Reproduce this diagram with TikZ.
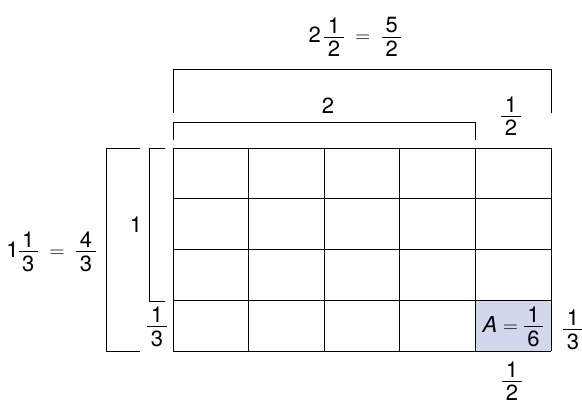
\documentclass[tikz,border=0pt]{standalone}
\usepackage{fontspec}
\usepackage{amsmath}
\setmainfont{TeX Gyre Heros}
\newcommand\myfr[2]{\vcenter{\offinterlineskip\halign{\hfil##\hfil\cr
  \,#1\,\cr\noalign{\kern3.5pt\hrule height 0.9pt\kern3.5pt}\,#2\,\cr}}}
\definecolor{cellblue}{HTML}{D2D7EE}
\tikzset{
  gridline/.style={line width=1pt, black},
  bracket/.style={line width=0.9pt, black},
  lab/.style={font=\fontsize{22}{26}\selectfont, inner sep=0pt}
}
\begin{document}
\begin{tikzpicture}[x=1pt,y=-1pt]
\useasboundingbox (0,0) rectangle (582,410);
% shaded cell
\fill[cellblue] (475.4,300.25) rectangle (551,351);
% grid
\foreach \xx in {173,248.6,324.2,399.8,475.4,551}
  \draw[gridline] (\xx,148) -- (\xx,351);
\foreach \yy in {148,198.75,249.5,300.25,351}
  \draw[gridline] (173,\yy) -- (551,\yy);
% brackets
\draw[bracket] (173,113) -- (173,69) -- (551,69) -- (551,113);
\draw[bracket] (173,140) -- (173,122) -- (475.4,122) -- (475.4,140);
\draw[bracket] (140,148) -- (106,148) -- (106,351) -- (140,351);
\draw[bracket] (165,148) -- (149,148) -- (149,301) -- (165,301);
% labels
\node[lab] (top) at (355,37) {$\text{2}\,\myfr{1}{2} \;=\; \myfr{5}{2}$};
\node[lab] (two) at (328,106) {2};
\node[lab] (halftop) at (511,116) {$\myfr{1}{2}$};
\node[lab] (left) at (51,252) {$\text{1}\myfr{1}{3} \;=\; \myfr{4}{3}$};
\node[lab] (one) at (136,225) {1};
\node[lab] (thirdleft) at (157,327) {$\myfr{1}{3}$};
\node[lab] (area) at (513,327) {$\text{\itshape A} = \myfr{1}{6}$};
\node[lab] (thirdright) at (573,330) {$\myfr{1}{3}$};
\node[lab] (halfbot) at (512,381) {$\myfr{1}{2}$};
\end{tikzpicture}
\end{document}
